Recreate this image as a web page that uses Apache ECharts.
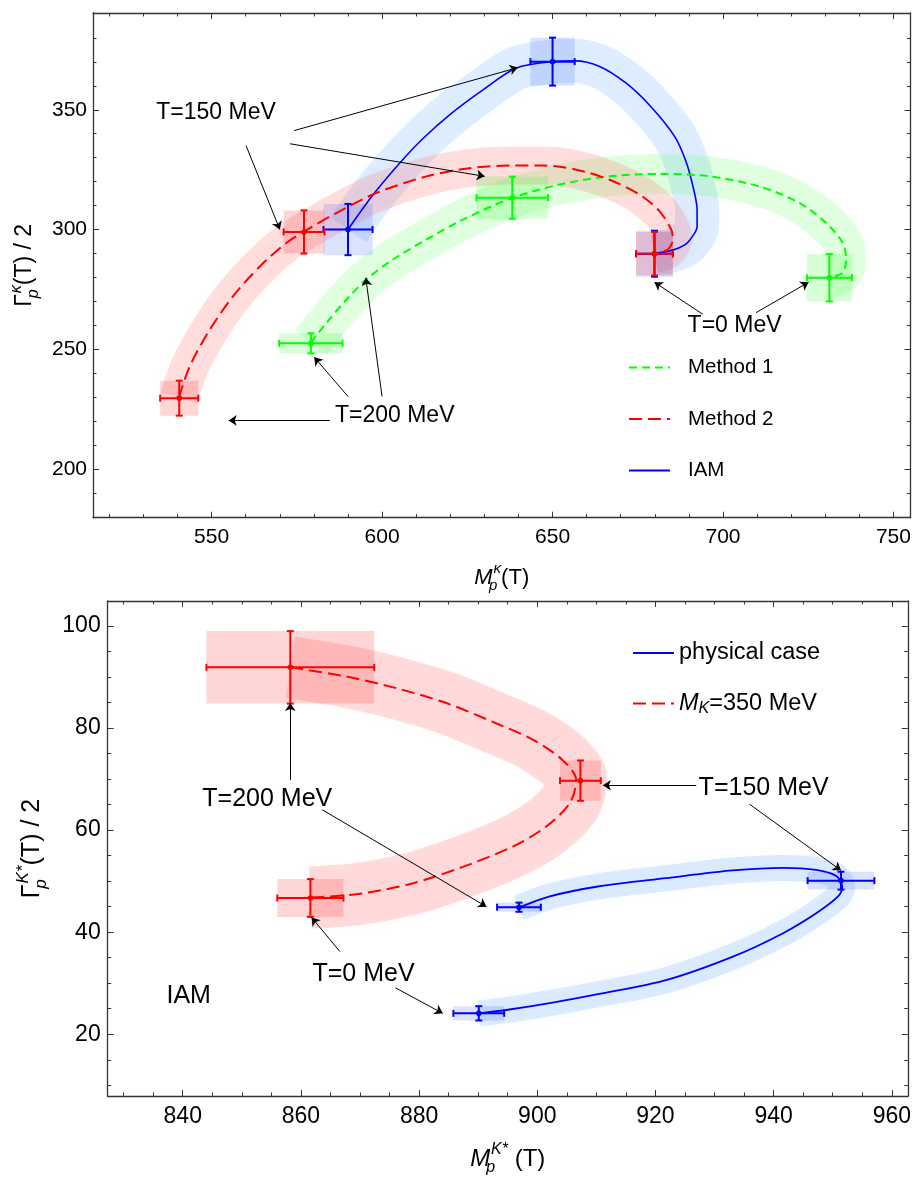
<!DOCTYPE html>
<html>
<head>
<meta charset="utf-8">
<script src="https://cdn.jsdelivr.net/npm/echarts@6/dist/echarts.min.js"></script>
<style>
    html, body { margin: 0; padding: 0; background: #fff; }
    #main { width: 914px; height: 1178px; }
</style>
</head>
<body>
<div id="main"></div>
<script>
// ---------- upper panel: kappa pole, M vs Gamma/2 ----------
var kapXRange = [515.2, 755];
var kapYRange = [179.7, 390.4];
var kapXMajor = [550, 600, 650, 700, 750];
var kapXMinor = [520, 530, 540, 560, 570, 580, 590, 610, 620, 630, 640, 660, 670, 680, 690, 710, 720, 730, 740];
var kapYMajor = [200, 250, 300, 350];
var kapYMinor = [190, 210, 220, 230, 240, 260, 270, 280, 290, 310, 320, 330, 340, 360, 370, 380];

// curves, T = 200 -> 150 -> 0 MeV
var method1Curve = [[579.1, 252.8], [583.7, 261.1], [589.6, 270.8], [595.4, 279.2], [603.2, 287.5], [613.0, 295.8],
    [622.8, 303.5], [637.4, 312.8], [652.1, 318.8], [666.7, 322.2], [681.4, 323.2], [696.1, 322.2], [710.7, 318.0],
    [722.4, 311.1], [730.2, 302.8], [735.1, 294.5], [736.1, 287.5], [735.1, 282.0], [731.2, 279.9]];
var method2Curve = [[540.4, 229.8], [543.6, 243.0], [549.5, 258.3], [556.3, 272.2], [564.2, 284.7], [572.0, 294.5],
    [577.3, 299.3], [586.6, 306.9], [598.4, 315.3], [613.0, 322.2], [625.0, 325.5], [637.4, 326.7], [647.2, 326.7],
    [657.0, 325.0], [666.7, 320.8], [675.5, 314.6], [681.4, 307.6], [684.8, 300.0], [685.3, 295.8], [683.8, 291.7],
    [679.9, 289.9]];
var iamCurve = [[590.0, 300.0], [597.4, 314.6], [605.2, 327.8], [612.0, 338.0], [619.8, 347.9], [629.6, 358.3],
    [639.4, 367.4], [650.0, 370.1], [656.5, 370.4], [663.8, 368.1], [671.6, 361.1], [678.8, 351.4], [685.8, 338.9],
    [689.3, 327.8], [691.4, 316.7], [692.4, 308.3], [692.4, 301.3], [691.4, 297.9], [689.0, 293.8], [684.9, 291.3],
    [679.9, 290.0]];

// [M, Gamma/2, dM, dGamma] at T = 200, 150, 0 MeV
var method1Points = [[579.1, 252.5, 9.3, 4.2], [638.2, 313.3, 10.5, 8.8], [731.2, 279.9, 6.6, 9.9]];
var method2Points = [[540.5, 229.6, 5.6, 7.3], [577.1, 299.0, 6.0, 9.0], [679.9, 289.9, 5.4, 9.1]];
var iamPoints = [[590.0, 300.0, 7.2, 10.7], [650.0, 370.1, 6.5, 10.0], [679.9, 289.9, 5.4, 9.6]];

var kapLabelText = ['T=150 MeV', 'T=200 MeV', 'T=0 MeV'];
var kapLabelPos = [[551.3, 348.8], [603.7, 222.5], [703.4, 260.0]];
// [fromM, fromG, toM, toG]
var kapArrows = [[560.1, 335.0, 570.0, 300.0], [574.2, 341.3, 639.8, 367.6], [573.0, 335.8, 630.1, 322.2],
    [590.0, 230.3, 580.1, 246.7], [600.0, 230.3, 595.2, 279.9], [584.7, 220.3, 555.0, 220.3],
    [694.1, 264.6, 679.9, 278.0], [709.7, 265.3, 725.1, 278.0]];

// ---------- lower panel: K* pole ----------
var kstXRange = [827.3, 962.7];
var kstYRange = [7.9, 104.9];
var kstXMajor = [840, 860, 880, 900, 920, 940, 960];
var kstXMinor = [830, 835, 845, 850, 855, 865, 870, 875, 885, 890, 895, 905, 910, 915, 925, 930, 935, 945, 950, 955];
var kstYMajor = [20, 40, 60, 80, 100];
var kstYMinor = [10, 15, 25, 30, 35, 45, 50, 55, 65, 70, 75, 85, 90, 95];

var physCurve = [[896.9, 44.8], [902.1, 47.0], [910.5, 49.0], [921.8, 50.6], [933.1, 52.1], [941.6, 52.6],
    [947.2, 52.2], [950.6, 51.0], [951.6, 48.9], [950.9, 47.0], [947.2, 43.7], [941.6, 39.8], [933.1, 35.2],
    [921.8, 30.6], [910.5, 27.9], [902.1, 26.1], [895.0, 24.8], [890.1, 24.1]];
var mk350Curve = [[858.2, 91.9], [867.7, 90.1], [876.2, 87.8], [884.6, 84.9], [893.1, 80.9], [899.3, 77.7],
    [904.3, 73.7], [906.6, 69.8], [905.5, 65.3], [901.5, 60.7], [895.9, 56.8], [887.4, 52.8], [879.0, 49.6],
    [870.5, 47.6], [864.9, 47.0], [861.6, 46.8]];

var physPoints = [[896.9, 44.9, 3.7, 0.9], [951.4, 50.1, 5.65, 1.75], [890.1, 24.1, 4.3, 1.4]];
var mk350Points = [[858.2, 91.9, 14.2, 7.1], [907.3, 69.7, 3.45, 3.95], [861.6, 46.7, 5.6, 3.7]];

var kstLabelText = ['T=200 MeV', 'T=150 MeV', 'T=0 MeV', 'IAM'];
var kstLabelPos = [[854.3, 66.0], [938.3, 68.2], [870.6, 31.8], [841.0, 27.5]];
var kstArrows = [[858.2, 69.8, 858.2, 84.9], [863.6, 64.0, 891.4, 45.0], [926.9, 68.8, 911.1, 68.8],
    [935.9, 65.1, 951.4, 52.1], [866.6, 36.2, 861.8, 42.9], [876.0, 29.1, 884.0, 24.1]];

var font = '"Liberation Sans", Arial, sans-serif';
var GREEN = '#00ff00', RED = '#ff0000', BLUE = '#0000ff';

function richFor(size) {
    var s = Math.round(size * 0.68);
    return {
        n: { fontSize: size, fontFamily: font, color: '#000', lineHeight: size + 10 },
        i: { fontSize: size, fontFamily: font, fontStyle: 'italic', color: '#000', lineHeight: size + 10 },
        sb: { fontSize: s, fontFamily: font, fontStyle: 'italic', color: '#000', verticalAlign: 'bottom', lineHeight: s, width: 1 },
        sp: { fontSize: s, fontFamily: font, fontStyle: 'italic', color: '#000', verticalAlign: 'top', lineHeight: s }
    };
}

// four framed sides, each with a long-tick axis and a short-tick axis
function frameAxes(dim, grid, range, major, minor, fontSize, margin, name, nameGap, nameSize) {
    var sides = dim === 'x' ? ['bottom', 'top'] : ['left', 'right'];
    var list = [];
    sides.forEach(function (pos, i) {
        [major, minor].forEach(function (ticks, j) {
            var main = i === 0 && j === 0;
            list.push({
                type: 'value',
                gridIndex: grid,
                position: pos,
                min: range[0],
                max: range[1],
                axisLine: { show: j === 0, onZero: false, lineStyle: { color: '#333', width: 1.3 } },
                axisTick: { show: true, inside: true, length: j === 0 ? 6 : 3.5, customValues: ticks,
                    lineStyle: { color: '#333', width: 1 } },
                axisLabel: { show: main, customValues: major, margin: margin, color: '#000',
                    fontSize: fontSize, fontFamily: font },
                splitLine: { show: false },
                name: main ? name : '',
                nameLocation: 'middle',
                nameGap: nameGap,
                nameTextStyle: { rich: richFor(nameSize) }
            });
        });
    });
    return list;
}

function curveSeries(name, data, color, dash, width, axis) {
    return {
        type: 'line', name: name, data: data, xAxisIndex: axis, yAxisIndex: axis,
        symbol: 'none', smooth: 0.3, silent: true, z: 3,
        itemStyle: { color: color },
        lineStyle: { color: color, width: width, type: dash }
    };
}

function bandSeries(data, color, width, axis) {
    return {
        type: 'line', data: data, xAxisIndex: axis, yAxisIndex: axis,
        symbol: 'none', smooth: 0.3, silent: true, z: 1,
        lineStyle: { color: color, width: width, cap: 'butt', join: 'round', shadowBlur: 12, shadowColor: color }
    };
}

function boxSeries(data, fill, axis) {
    return {
        type: 'custom', data: data, xAxisIndex: axis, yAxisIndex: axis, encode: { x: 0, y: 1 }, silent: true, z: 2,
        renderItem: function (params, api) {
            var m = api.value(0), g = api.value(1), dm = api.value(2), dg = api.value(3);
            var lt = api.coord([m - dm, g + dg]), rb = api.coord([m + dm, g - dg]);
            return { type: 'rect', shape: { x: lt[0], y: lt[1], width: rb[0] - lt[0], height: rb[1] - lt[1] },
                style: { fill: fill } };
        }
    };
}

function errorSeries(data, color, axis) {
    return {
        type: 'custom', data: data, xAxisIndex: axis, yAxisIndex: axis, encode: { x: 0, y: 1 }, silent: true, z: 4,
        renderItem: function (params, api) {
            var m = api.value(0), g = api.value(1), dm = api.value(2), dg = api.value(3);
            var c = api.coord([m, g]);
            var lt = api.coord([m - dm, g + dg]), rb = api.coord([m + dm, g - dg]);
            var cap = 3.5;
            var st = { stroke: color, lineWidth: 2 };
            return {
                type: 'group',
                children: [
                    { type: 'line', shape: { x1: lt[0], y1: c[1], x2: rb[0], y2: c[1] }, style: st },
                    { type: 'line', shape: { x1: c[0], y1: lt[1], x2: c[0], y2: rb[1] }, style: st },
                    { type: 'line', shape: { x1: lt[0], y1: c[1] - cap, x2: lt[0], y2: c[1] + cap }, style: st },
                    { type: 'line', shape: { x1: rb[0], y1: c[1] - cap, x2: rb[0], y2: c[1] + cap }, style: st },
                    { type: 'line', shape: { x1: c[0] - cap, y1: lt[1], x2: c[0] + cap, y2: lt[1] }, style: st },
                    { type: 'line', shape: { x1: c[0] - cap, y1: rb[1], x2: c[0] + cap, y2: rb[1] }, style: st },
                    { type: 'circle', shape: { cx: c[0], cy: c[1], r: 2.8 }, style: { fill: color } }
                ]
            };
        }
    };
}

function arrowSeries(arrows, axis) {
    return {
        type: 'lines', coordinateSystem: 'cartesian2d', xAxisIndex: axis, yAxisIndex: axis,
        symbol: ['none', 'arrow'], symbolSize: 8, silent: true, z: 5,
        lineStyle: { color: '#000', width: 1, opacity: 1, curveness: 0 },
        data: arrows.map(function (a) {
            return { coords: [[a[0], a[1]], [a[2], a[3]]] };
        })
    };
}

function textSeries(pos, texts, size, axis) {
    return {
        type: 'custom', data: pos, xAxisIndex: axis, yAxisIndex: axis, encode: { x: 0, y: 1 }, silent: true, z: 6,
        renderItem: function (params, api) {
            var p = api.coord([api.value(0), api.value(1)]);
            return { type: 'text', x: p[0], y: p[1],
                style: { text: texts[params.dataIndex], fill: '#000', fontSize: size, fontFamily: font,
                    align: 'center', verticalAlign: 'middle' } };
        }
    };
}

var myChart = echarts.init(document.getElementById('main'), null, { renderer: 'canvas' });

var xAxes = frameAxes('x', 0, kapXRange, kapXMajor, kapXMinor, 21, 9, '{i|M}{sb|p}{sp|κ}{n|(T)}', 44, 22)
    .concat(frameAxes('x', 1, kstXRange, kstXMajor, kstXMinor, 23, 9, '{i|M}{sb|p}{sp|K*}{n| (T)}', 46, 24));
var yAxes = frameAxes('y', 0, kapYRange, kapYMajor, kapYMinor, 21, 6, '{n|Γ}{sb|p}{sp|κ}{n|(T) / 2}', 50, 23)
    .concat(frameAxes('y', 1, kstYRange, kstYMajor, kstYMinor, 23, 7, '{n|Γ}{sb|p}{sp|K*}{n|(T) / 2}', 58, 25));

var legendRich = {
    n: { fontSize: 20.5, fontFamily: font, color: '#000' },
    i: { fontSize: 23.5, fontFamily: font, fontStyle: 'italic', color: '#000' },
    s: { fontSize: 16, fontFamily: font, fontStyle: 'italic', color: '#000', verticalAlign: 'bottom', lineHeight: 26 },
    b: { fontSize: 23.5, fontFamily: font, color: '#000' }
};

myChart.setOption({
    animation: false,
    backgroundColor: '#fff',
    grid: [
        { left: 93, top: 13, width: 817.5, height: 504.7 },
        { left: 107.7, top: 601, width: 800.3, height: 495 }
    ],
    xAxis: xAxes,
    yAxis: yAxes,
    legend: [
        {
            data: ['Method 1', 'Method 2', 'IAM'],
            orient: 'vertical', left: 623, top: 352, itemWidth: 41, itemHeight: 20, itemGap: 30.5,
            selectedMode: false,
            itemStyle: { opacity: 0 },
            textStyle: { fontSize: 20.5, fontFamily: font, color: '#000', padding: [0, 0, 0, 13], rich: legendRich },
            formatter: function (name) { return '{n|' + name + '}'; }
        },
        {
            data: ['physical case', 'MK=350 MeV'],
            orient: 'vertical', left: 627, top: 636, itemWidth: 41, itemHeight: 22, itemGap: 26.6,
            selectedMode: false,
            itemStyle: { opacity: 0 },
            textStyle: { fontSize: 23.5, fontFamily: font, color: '#000', padding: [0, 0, 0, 0], rich: legendRich },
            formatter: function (name) {
                if (name === 'MK=350 MeV') return '{i|M}{s|K}{b|=350 MeV}';
                return '{b|' + name + '}';
            }
        }
    ],
    series: [
        // upper panel
        bandSeries(iamCurve, 'rgba(110,175,255,0.2)', 44, 0),
        bandSeries(method1Curve, 'rgba(90,255,90,0.17)', 40, 0),
        bandSeries(method2Curve, 'rgba(255,90,90,0.18)', 38, 0),
        boxSeries(iamPoints, 'rgba(40,80,255,0.16)', 0),
        boxSeries(method1Points, 'rgba(0,255,0,0.16)', 0),
        boxSeries(method2Points, 'rgba(255,0,0,0.16)', 0),
        curveSeries('IAM', iamCurve, BLUE, 'solid', 1.6, 0),
        curveSeries('Method 1', method1Curve, GREEN, [8, 5], 2, 0),
        curveSeries('Method 2', method2Curve, RED, [13, 6], 2, 0),
        errorSeries(iamPoints, BLUE, 0),
        errorSeries(method1Points, GREEN, 0),
        errorSeries(method2Points, RED, 0),
        arrowSeries(kapArrows, 0),
        textSeries(kapLabelPos, kapLabelText, 23, 0),
        // lower panel
        bandSeries(mk350Curve, 'rgba(255,90,90,0.2)', 62, 4),
        bandSeries(physCurve, 'rgba(110,175,255,0.22)', 26, 4),
        boxSeries(mk350Points, 'rgba(255,0,0,0.16)', 4),
        boxSeries(physPoints, 'rgba(40,80,255,0.16)', 4),
        curveSeries('physical case', physCurve, BLUE, 'solid', 1.8, 4),
        curveSeries('MK=350 MeV', mk350Curve, RED, [13, 6], 2, 4),
        errorSeries(mk350Points, RED, 4),
        errorSeries(physPoints, BLUE, 4),
        arrowSeries(kstArrows, 4),
        textSeries(kstLabelPos, kstLabelText, 25, 4)
    ]
});
</script>
</body>
</html>
